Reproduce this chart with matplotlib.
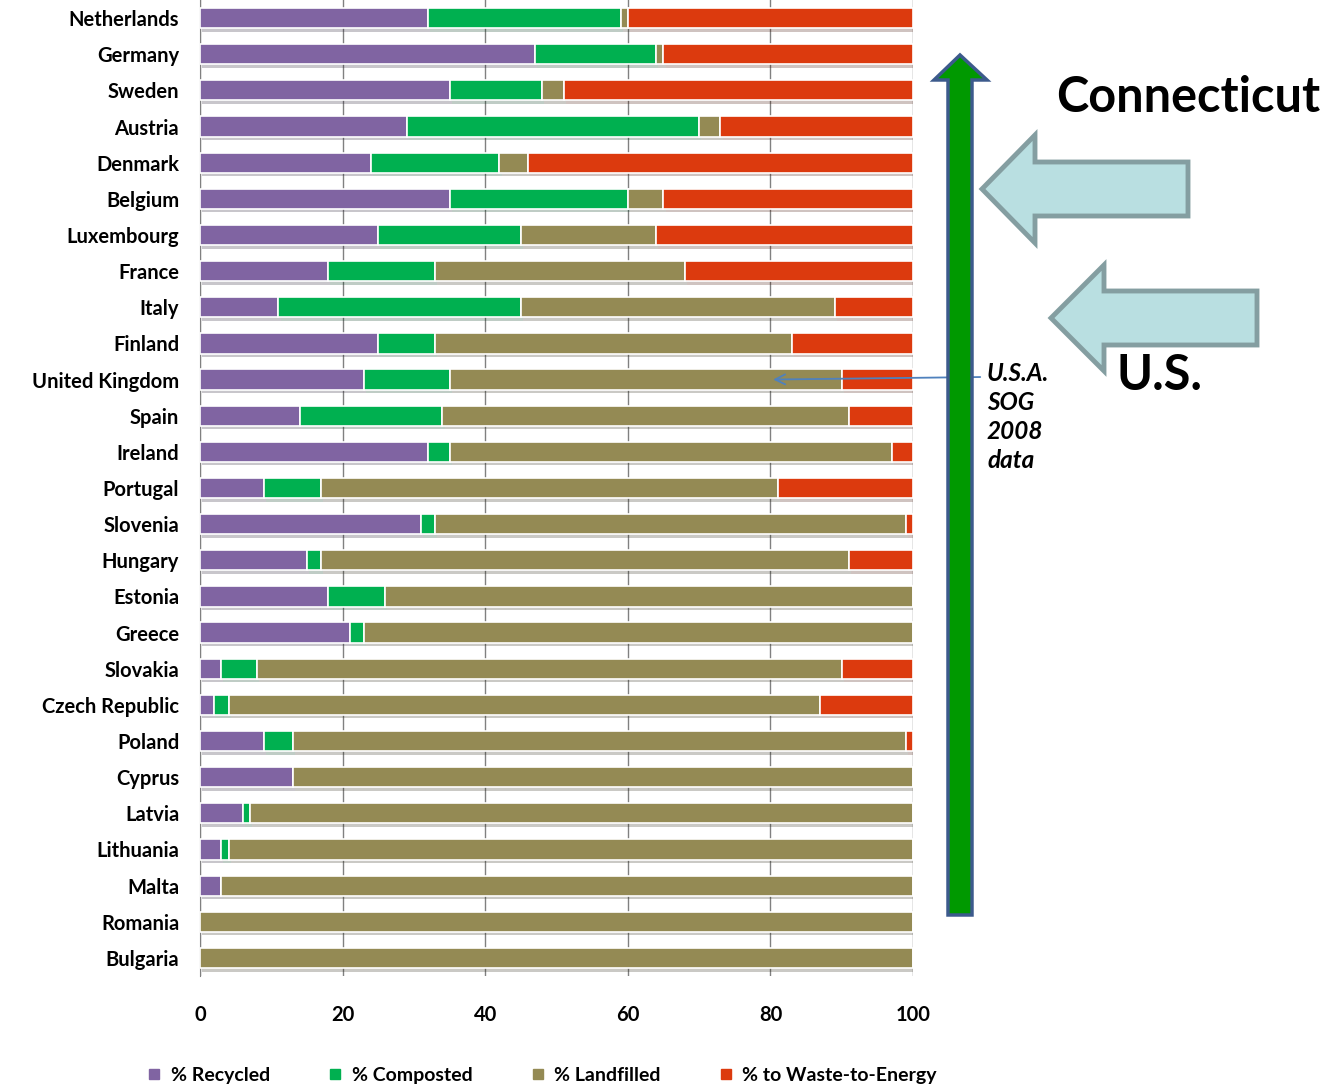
import numpy as np
import matplotlib
matplotlib.use("Agg")
import matplotlib.pyplot as plt
import matplotlib.patheffects as pe
from matplotlib.patches import Polygon
from matplotlib.lines import Line2D

countries = ['Netherlands', 'Germany', 'Sweden', 'Austria', 'Denmark', 'Belgium',
             'Luxembourg', 'France', 'Italy', 'Finland', 'United Kingdom', 'Spain',
             'Ireland', 'Portugal', 'Slovenia', 'Hungary', 'Estonia', 'Greece',
             'Slovakia', 'Czech Republic', 'Poland', 'Cyprus', 'Latvia', 'Lithuania',
             'Malta', 'Romania', 'Bulgaria']
recycled   = [32, 47, 35, 29, 24, 35, 25, 18, 11, 25, 23, 14, 32,  9, 31, 15, 18, 21,  3,  2,  9, 13,  6,  3,  3,   0,   0]
composted  = [27, 17, 13, 41, 18, 25, 20, 15, 34,  8, 12, 20,  3,  8,  2,  2,  8,  2,  5,  2,  4,  0,  1,  1,  0,   0,   0]
landfilled = [ 1,  1,  3,  3,  4,  5, 19, 35, 44, 50, 55, 57, 62, 64, 66, 74, 74, 77, 82, 83, 86, 87, 93, 96, 97, 100, 100]
wte        = [40, 35, 49, 27, 54, 35, 36, 32, 11, 17, 10,  9,  3, 19,  1,  9,  0,  0, 10, 13,  1,  0,  0,  0,  0,   0,   0]

series = [('% Recycled', recycled, '#8064A2'),
          ('% Composted', composted, '#00B050'),
          ('% Landfilled', landfilled, '#948A54'),
          ('% to Waste-to-Energy', wte, '#DC3A0E')]

FONT = 'Lato'

fig = plt.figure(figsize=(13.34, 10.88), dpi=100)
ax = fig.add_axes([200/1334, 1 - 976/1088, 713/1334, 976/1088])

y = np.arange(len(countries))
left = np.zeros(len(countries))
shadow = [pe.SimplePatchShadow(offset=(1.5, -2.5), alpha=0.25), pe.Normal()]
for name, vals, color in series:
    vals = np.array(vals, dtype=float)
    bars = ax.barh(y, vals, left=left, height=0.56, color=color,
                   edgecolor='white', linewidth=1.2, label=name, zorder=3)
    for b, v in zip(bars, vals):
        if v > 0:
            b.set_path_effects(shadow)
    left += vals

ax.set_ylim(len(countries) - 0.5, -0.5)
ax.set_xlim(0, 100)
ax.set_yticks(y)
ax.set_yticklabels(countries, fontfamily=FONT, fontweight='bold', fontsize=14.5)
ax.set_xticks([0, 20, 40, 60, 80, 100])
ax.tick_params(axis='x', length=0, pad=21, labelsize=14.5)
for t in ax.get_xticklabels():
    t.set_fontfamily(FONT)
    t.set_fontweight('bold')
ax.tick_params(axis='y', length=0, pad=15)
ax.xaxis.grid(True, color='#808080', linewidth=1, zorder=0)
ax.set_axisbelow(True)
for s in ['top', 'right', 'bottom']:
    ax.spines[s].set_visible(False)
ax.spines['left'].set_color('#808080')

# legend
handles = [Line2D([], [], marker='s', linestyle='none', markersize=7,
                  markerfacecolor=c, markeredgecolor=c) for _, _, c in series]
fig.legend(handles, [n for n, _, _ in series], loc='lower center', ncol=4,
           bbox_to_anchor=(0.405, -0.012), frameon=False, handletextpad=0.3,
           handlelength=1.1, columnspacing=2.8,
           prop={'family': FONT, 'weight': 'bold', 'size': 14})

# overlay in pixel coordinates for the annotations on the right
ov = fig.add_axes([0, 0, 1, 1], facecolor='none')
ov.set_xlim(0, 1334)
ov.set_ylim(1088, 0)
ov.axis('off')

# green vertical arrow
green_arrow = Polygon([(948, 915), (972, 915), (972, 80), (987, 80), (960, 55),
                       (934, 80), (948, 80)], closed=True, facecolor='#009900',
                      edgecolor='#3C5A8C', linewidth=2.5, zorder=2)
ov.add_patch(green_arrow)

# light blue block arrows
def block_arrow(tip_x, tip_y, head_x, head_half, shaft_half, end_x):
    pts = [(tip_x, tip_y), (head_x, tip_y - head_half), (head_x, tip_y - shaft_half),
           (end_x, tip_y - shaft_half), (end_x, tip_y + shaft_half),
           (head_x, tip_y + shaft_half), (head_x, tip_y + head_half)]
    ov.add_patch(Polygon(pts, closed=True, facecolor='#B9DFE1', edgecolor='#849EA1',
                         linewidth=3.5, joinstyle='miter', zorder=3))

block_arrow(982, 189, 1035, 54, 27, 1188)
block_arrow(1051, 318, 1104, 53, 27, 1257)

ov.text(1056, 97, 'Connecticut', fontsize=35, fontweight='bold', family=FONT,
        ha='left', va='center', zorder=4)
ov.text(1116, 376, 'U.S.', fontsize=35, fontweight='bold', family=FONT,
        ha='left', va='center', zorder=4)
ov.text(987, 362, 'U.S.A.\nSOG\n2008\ndata', fontsize=17.5, fontweight='bold',
        fontstyle='italic', family=FONT, ha='left', va='top', linespacing=1.32,
        zorder=4)

# thin blue pointer to the UK bar
uk = countries.index('United Kingdom')
ax.annotate('', xy=(80, uk), xycoords='data',
            xytext=(983 / 1334, 1 - 377 / 1088), textcoords='figure fraction',
            arrowprops=dict(arrowstyle='->', color='#4F81BD', lw=1.3,
                            mutation_scale=18), zorder=6, annotation_clip=False)

fig.savefig('out.png', dpi=100)
